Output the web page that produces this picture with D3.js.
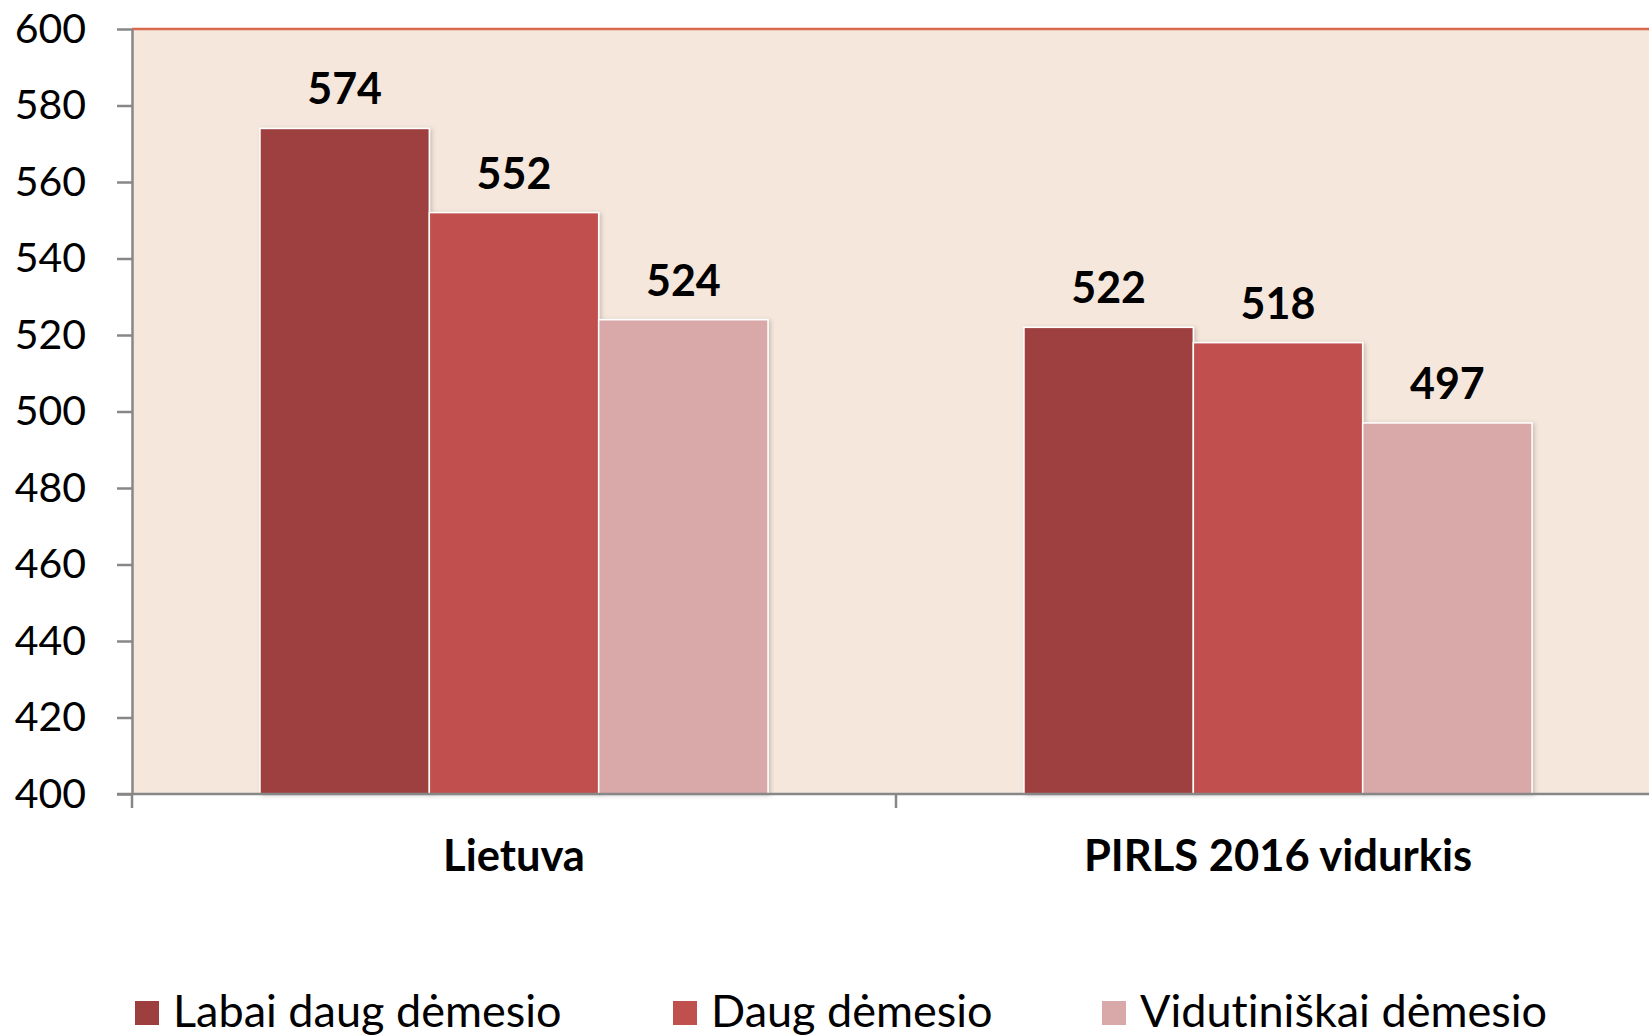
<!DOCTYPE html>
<html><head><meta charset="utf-8">
<script src="https://cdn.jsdelivr.net/npm/d3@7/dist/d3.min.js"></script>
<style>body{margin:0;background:#fff}svg{display:block;font-family:Lato,"Open Sans",sans-serif;font-variant-ligatures:none}</style>
</head><body>
<svg id="c" width="1649" height="1036"></svg>
<script>
const categories = ["Lietuva", "PIRLS 2016 vidurkis"];
const seriesNames = ["Labai daug dėmesio", "Daug dėmesio", "Vidutiniškai dėmesio"];
const labaiDaug = [574, 522];
const daug = [552, 518];
const vidutiniskai = [524, 497];
const yTicks = [400, 420, 440, 460, 480, 500, 520, 540, 560, 580, 600];
const colors = ["#9E3F3F", "#C0504D", "#D9A9AA"];

const seriesValues = [labaiDaug, daug, vidutiniskai];
const svg = d3.select("#c");
const L = 132, T = 29, B = 794, R = 1660;

const y = d3.scaleLinear().domain([400, 600]).range([B, T]);
const x0 = d3.scaleBand().domain(categories).range([L, R]).paddingInner(0.335).paddingOuter(0.1675);
const x1 = d3.scaleBand().domain(seriesNames).range([0, x0.bandwidth()]);

// plot background
svg.append("rect").attr("x", L).attr("y", T).attr("width", 1649 - L).attr("height", B - T).attr("fill", "#F5E7DB");
// top border
svg.append("line").attr("x1", L).attr("x2", 1649).attr("y1", T).attr("y2", T).attr("stroke", "#D9694C").attr("stroke-width", 2.5);

const defs = svg.append("defs");
const f = defs.append("filter").attr("id", "sh").attr("x", "-10%").attr("y", "-10%").attr("width", "130%").attr("height", "130%");
f.append("feDropShadow").attr("dx", 2).attr("dy", 1).attr("stdDeviation", 2).attr("flood-color", "#000").attr("flood-opacity", 0.18);

const groups = svg.append("g").selectAll("g").data(categories).join("g")
  .attr("transform", d => `translate(${x0(d)},0)`);
groups.each(function (cat, ci) {
  const g = d3.select(this);
  seriesNames.forEach((s, si) => {
    const v = seriesValues[si][ci];
    g.append("rect")
      .attr("x", x1(s)).attr("y", y(v))
      .attr("width", x1.bandwidth()).attr("height", B - y(v))
      .attr("fill", colors[si]).attr("stroke", "#fff").attr("stroke-width", 1.5)
      .attr("filter", "url(#sh)");
    g.append("text")
      .attr("x", x1(s) + x1.bandwidth() / 2).attr("y", y(v) - 24)
      .attr("text-anchor", "middle").attr("font-weight", 700).attr("font-size", 43)
      .text(v);
  });
});

// y axis
const yAxis = svg.append("g").attr("transform", `translate(${L},0)`)
  .call(d3.axisLeft(y).tickValues(yTicks).tickSize(15).tickPadding(31).tickSizeOuter(0));
yAxis.select(".domain").attr("stroke", "#878787").attr("stroke-width", 2.5);
yAxis.selectAll(".tick line").attr("stroke", "#878787").attr("stroke-width", 2.5);
yAxis.selectAll(".tick text").attr("font-size", 41).attr("fill", "#000").attr("font-family", "Lato");

// x axis
svg.append("line").attr("x1", L - 15).attr("x2", 1649).attr("y1", B).attr("y2", B).attr("stroke", "#878787").attr("stroke-width", 2.5);
const bounds = [L, (x0(categories[0]) + x0.bandwidth() + x0(categories[1])) / 2, R];
svg.selectAll(".xt").data(bounds).join("line").attr("class", "xt")
  .attr("x1", d => d).attr("x2", d => d).attr("y1", B).attr("y2", B + 14)
  .attr("stroke", "#878787").attr("stroke-width", 2.5);
svg.selectAll(".cat").data(categories).join("text").attr("class", "cat")
  .attr("x", d => x0(d) + x0.bandwidth() / 2).attr("y", 871)
  .attr("text-anchor", "middle").attr("font-weight", 700).attr("font-size", 43.5)
  .text(d => d);

// legend
const legX = [135, 673, 1102];
const lg = svg.selectAll(".lg").data(seriesNames).join("g").attr("class", "lg")
  .attr("transform", (d, i) => `translate(${legX[i]},1001)`);
lg.append("rect").attr("width", 24).attr("height", 24).attr("fill", (d, i) => colors[i]);
lg.append("text").attr("x", 38).attr("y", 26).attr("font-size", 45).text(d => d);
</script>
</body></html>
